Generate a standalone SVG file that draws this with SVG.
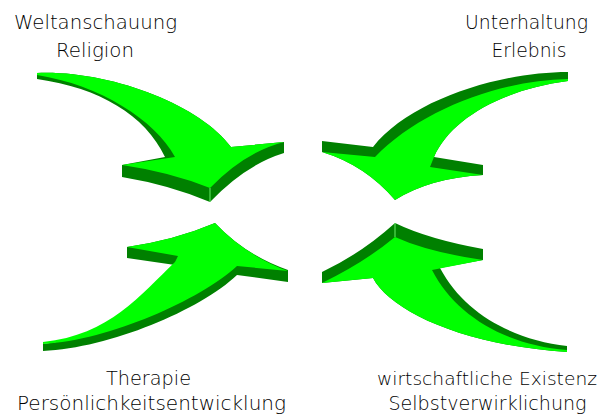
<svg xmlns="http://www.w3.org/2000/svg" width="607" height="416" viewBox="0 0 607 416">
<style>
.side{fill:#008000}
.top{fill:#00FF00}
.hl{stroke:#66ee66;stroke-width:1;fill:none}
text{font-family:"DejaVu Sans","Liberation Sans",Arial,sans-serif;font-weight:200;font-size:20px;fill:#000000;text-anchor:middle}
.sm{font-size:18.5px}
</style>
<rect width="607" height="416" fill="#ffffff"/>
<g id="connectors">
<g id="arrow-tl">
<path class="side" d="M37,73 C110,70 200,105 231,147 L284,142 L284,153 Q245,165 210,202 Q170,185 122,177 L122,165 L165,157 C145,115 100,88 37,79 Z"/>
<path class="top" d="M37,73 C110,70 200,105 231,147 L284,142 Q245,152 210,188 Q170,172 122,165 L175,157 C155,120 100,85 37,75 Z"/>
<line class="hl" x1="210" y1="188" x2="210" y2="202"/>
</g>
<g id="arrow-tr">
<path class="side" d="M568,72 C500,72 410,100 373,147 L322,141 L322,152 Q365,165 395,200 Q430,178 483,175 L483,165 L434,157 C450,120 500,90 568,81 Z"/>
<path class="top" d="M568,79 C500,80 420,110 375,157 L322,152 Q365,165 395,200 Q430,178 483,175 L430,167 L434,157 C450,120 500,90 568,81 Z"/>
</g>
<g id="arrow-bl">
<path class="side" d="M215,223 Q175,240 127,247 L127,258 L175,265 C140,297 110,337 43,344 L43,351 C110,348 200,310 237,275 L288,282 L288,270 Q245,255 215,223 Z"/>
<path class="top" d="M215,223 Q175,240 127,247 L178,256 L175,262 C140,295 110,335 43,342 L43,344 C110,340 200,300 237,266 L288,271 Q245,255 215,223 Z"/>
</g>
<g id="arrow-br">
<path class="side" d="M322,272 Q362,253 395,223 Q428,239 483,249 L483,260 L440,268 C465,315 515,340 567,346 L567,352 C460,345 390,310 373,278 L322,283 Z"/>
<path class="top" d="M322,283 Q365,262 395,237 Q428,252 483,260 L432,270 C455,315 505,345 567,350 L567,352 C460,345 390,310 373,278 Z"/>
<line class="hl" x1="395" y1="223" x2="395" y2="237"/>
</g>
</g>
<g id="label-tl">
<text x="95.5" y="28.5" textLength="163" lengthAdjust="spacingAndGlyphs">Weltanschauung</text>
<text x="95" y="56.5" textLength="78" lengthAdjust="spacingAndGlyphs">Religion</text>
</g>
<g id="label-tr">
<text x="526.5" y="28.5" textLength="123" lengthAdjust="spacingAndGlyphs">Unterhaltung</text>
<text x="529" y="56.5" textLength="75" lengthAdjust="spacingAndGlyphs">Erlebnis</text>
</g>
<g id="label-bl">
<text x="148.5" y="385" textLength="85" lengthAdjust="spacingAndGlyphs">Therapie</text>
<text x="151.5" y="410" textLength="269" lengthAdjust="spacingAndGlyphs">Persönlichkeitsentwicklung</text>
</g>
<g id="label-br">
<text class="sm" x="487" y="385" textLength="220" lengthAdjust="spacingAndGlyphs">wirtschaftliche Existenz</text>
<text x="487.5" y="410" textLength="198" lengthAdjust="spacingAndGlyphs">Selbstverwirklichung</text>
</g>
</svg>
